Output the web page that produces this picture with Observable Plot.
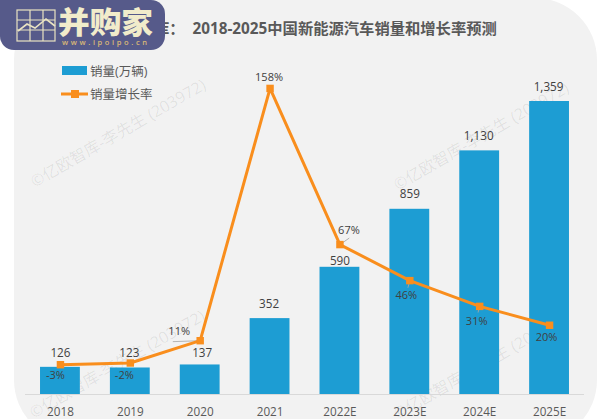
<!DOCTYPE html>
<html><head><meta charset="utf-8">
<script src="https://cdn.jsdelivr.net/npm/d3@7"></script>
<script src="https://cdn.jsdelivr.net/npm/@observablehq/plot@0.6"></script>
<style>
html,body{margin:0;padding:0;background:#fff;overflow:hidden}
#wrap{position:relative;width:599px;height:419px;font-family:"Open Sans","Noto Sans CJK SC",sans-serif}
#card{position:absolute;left:14px;top:-2px;width:583px;height:444px;background:#f2f2f2;border-radius:62px}
#title{position:absolute;left:108px;top:16px;font:bold 15.3px "Open Sans","Noto Sans CJK SC",sans-serif;color:#595959;white-space:pre}
#chart{position:absolute;left:0;top:0}
#logo{position:absolute;left:0;top:0;width:165px;height:50px;background:#565a8a;border-radius:0 14px 14px 14px}
</style></head><body>
<div id="wrap"><div id="card"></div><div id="title">亿欧智库：  2018-2025中国新能源汽车销量和增长率预测</div><div id="chart"></div>
<div id="logo"><svg width="165" height="50" style="display:block">
<g fill="none" stroke="#e9e3c2" stroke-width="1.2"><rect x="17" y="10" width="38" height="31"/><path d="M30 10V41M43 10V41M17 20H55M17 30H55"/><path d="M18 31L27 24L35 28L46 19L55 26" stroke-width="1.6"/></g>
<text x="58" y="33" fill="#f1eccb" font-family="Noto Sans CJK SC" font-weight="900" font-size="30" textLength="95" lengthAdjust="spacingAndGlyphs">并购家</text>
<text x="62" y="45" fill="#d9b877" font-family="Open Sans" font-size="7.5" font-weight="600" textLength="85" lengthAdjust="spacing">www.ipoipo.cn</text>
</svg></div></div>
<script>
const years=["2018","2019","2020","2021","2022E","2023E","2024E","2025E"];
const sales=[126,123,137,352,590,859,1130,1359];
const rates=[-3,-2,11,158,67,46,31,20];
const salesLabels=["126","123","137","352","590","859","1,130","1,359"];
const salesDy=[-14,-15,-12,-14,-6,-15,-15,-14];
const salesDx=[0,-1,2,-1,0,0,-1,-1];
const rateDy=[11,12,-9.5,-11,-14,15,15,12];
const rateDx=[-5,-6,-21,-1,9,-3.5,-3,-3];
const leaderLen=[0,0,27,0,11,7,6,0];
const leaderAngle=[0,0,268,0,55,195,195,0];
const watermark="©亿欧智库-李先生 (203972)";
const wmAnchors=[[121,138],[120,369],[484,141],[484,370]];
const toSales=d3.scaleLinear().domain([-3,158]).range([-3*7.96+162,158*7.96+162]);
const rows=years.map((y,i)=>({y,s:sales[i],r:rates[i],rs:toSales(rates[i]),sl:salesLabels[i],sdy:salesDy[i],sdx:salesDx[i],dy:rateDy[i],dx:rateDx[i],ll:leaderLen[i],la:leaderAngle[i]}));
const font='"Open Sans","Noto Sans CJK SC",sans-serif';
const leaderShape={draw(ctx,l){ctx.moveTo(0,0);ctx.lineTo(0,-l);}};
const chart=Plot.plot({
 width:599,height:419,marginTop:0,marginBottom:0,marginLeft:0,marginRight:0,
 style:{background:"transparent",fontFamily:font,overflow:"visible"},
 x:{type:"band",domain:years,range:[25,584],paddingInner:0.43,paddingOuter:0.215,round:false,axis:null},
 y:{domain:[0,1359],range:[394,101],axis:null},
 marks:[
  Plot.barY(rows,{x:"y",y:"s",fill:"#1d9dd3"}),
  Plot.ruleY([0],{stroke:"#d9d9d9",strokeWidth:1.2,insetLeft:25,insetRight:15}),
  Plot.text(years,{x:d=>d,frameAnchor:"bottom",dy:-4,fontSize:11.7,fill:"#595959"}),
  ...rows.map(r=>Plot.text([r],{x:"y",y:"s",text:"sl",dx:r.sdx,dy:r.sdy,fontSize:11.7,fill:"#404040"})),
  Plot.vector(rows.filter(r=>r.ll>0),{x:"y",y:"rs",length:{value:"ll",scale:null},rotate:"la",anchor:"start",shape:leaderShape,stroke:"#a6a6a6",strokeWidth:0.8}),
  Plot.line(rows,{x:"y",y:"rs",stroke:"#f98e1d",strokeWidth:3}),
  Plot.dot(rows,{x:"y",y:"rs",symbol:"square",r:4.2,fill:"#f98e1d"}),
  ...rows.map(r=>Plot.text([r],{x:"y",y:"rs",text:d=>d.r+"%",dx:r.dx,dy:r.dy,fontSize:11,fill:"#404040"}))
 ]
});
document.getElementById("chart").appendChild(chart);
const svg=d3.select(chart);
const lg=svg.append("g").attr("font-family",font).attr("text-anchor","start");
lg.append("rect").attr("x",62).attr("y",66).attr("width",25).attr("height",9).attr("fill","#1d9dd3");
lg.append("text").attr("x",90).attr("y",76).attr("font-size",12.5).attr("fill","#595959").text("销量(万辆)");
lg.append("line").attr("x1",61).attr("x2",88).attr("y1",94).attr("y2",94).attr("stroke","#f98e1d").attr("stroke-width",3);
lg.append("rect").attr("x",71).attr("y",90).attr("width",8).attr("height",8).attr("fill","#f98e1d");
lg.append("text").attr("x",90).attr("y",99).attr("font-size",12.5).attr("fill","#595959").text("销量增长率");
const wm=svg.insert("g","g").attr("font-family",font).attr("font-size",16).attr("fill","#000").attr("fill-opacity",0.08);
wmAnchors.forEach(a=>wm.append("text").attr("text-anchor","middle").attr("transform",`translate(${a[0]},${a[1]}) rotate(-30)`).text(watermark));
</script></body></html>
